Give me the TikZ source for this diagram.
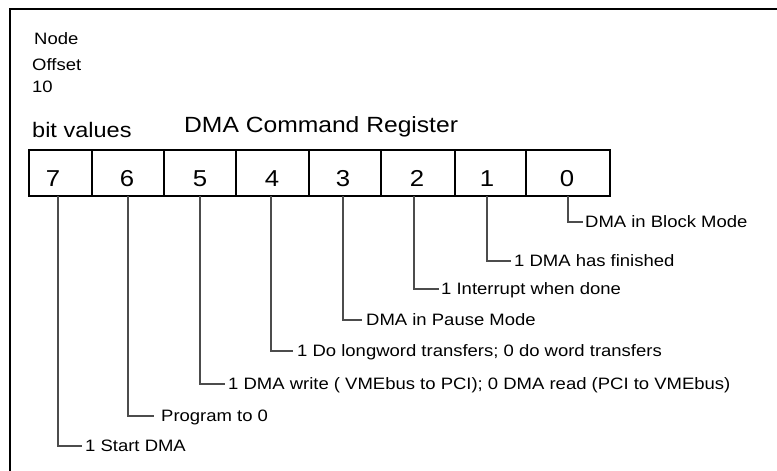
\documentclass[tikz,border=0pt]{standalone}
\usepackage{fontspec}
\setmainfont{Liberation Sans}[FakeStretch=1.12]
\begin{document}
\begin{tikzpicture}[x=1pt,y=-1pt,
  cell/.style={draw=black,line width=1.6pt,minimum height=46pt,inner sep=0pt},
  digit/.style={font=\fontsize{23}{26}\selectfont,inner sep=0pt,anchor=base},
  lab/.style={font=\fontsize{16.5}{19}\selectfont,inner sep=0pt,anchor=west,text height=11.8pt,text depth=0pt},
  toplab/.style={font=\fontsize{16.5}{19}\selectfont,inner sep=0pt,anchor=base west},
  leader/.style={draw=black!70,line width=1.1pt}]
\useasboundingbox (0,0) rectangle (777,471);
% frame
\draw[line width=2pt] (777,8.5) -- (9.5,8.5) -- (9.5,471);
% top texts
\node[toplab] (node) at (34,44.3) {Node};
\node[toplab] (offset) at (32,70) {Offset};
\node[toplab] (ten) at (32,92.3) {10};
\node[font=\fontsize{21}{24}\selectfont,inner sep=0pt,anchor=base west] (bits) at (32,137.7) {bit values};
\node[font=\fontsize{22}{25}\selectfont,inner sep=0pt,anchor=base west] (title) at (184,132.3) {DMA Command Register};
% register cells
\node[cell,minimum width=63pt] (c7) at (60.5,173) {};
\node[cell,minimum width=72pt] (c6) at (128,173) {};
\node[cell,minimum width=72pt] (c5) at (200,173) {};
\node[cell,minimum width=73pt] (c4) at (272.5,173) {};
\node[cell,minimum width=72pt] (c3) at (345,173) {};
\node[cell,minimum width=74pt] (c2) at (418,173) {};
\node[cell,minimum width=71pt] (c1) at (490.5,173) {};
\node[cell,minimum width=84pt] (c0) at (568,173) {};
% digits
\node[digit] (d7) at (53,186) {7};
\node[digit] (d6) at (127,186) {6};
\node[digit] (d5) at (200,186) {5};
\node[digit] (d4) at (272,186) {4};
\node[digit] (d3) at (343,186) {3};
\node[digit] (d2) at (417,186) {2};
\node[digit] (d1) at (487,186) {1};
\node[digit] (d0) at (567,186) {0};
% leader start points
\coordinate (t7) at (58,196);
\coordinate (t6) at (128,196);
\coordinate (t5) at (200,196);
\coordinate (t4) at (271,196);
\coordinate (t3) at (343,196);
\coordinate (t2) at (414,196);
\coordinate (t1) at (487,196);
\coordinate (t0) at (568,196);
% labels
\node[lab] (l0) at (585,222) {DMA in Block Mode};
\node[lab] (l1) at (514,261) {1 DMA has finished};
\node[lab] (l2) at (441,289) {1 Interrupt when done};
\node[lab] (l3) at (366,320) {DMA in Pause Mode};
\node[lab] (l4) at (297,351) {1 Do longword transfers; 0 do word transfers};
\node[lab] (l5) at (228,384) {1 DMA write ( VMEbus to PCI); 0 DMA read (PCI to VMEbus)};
\node[lab] (l6) at (161,416) {Program to 0};
\node[lab] (l7) at (85,446) {1 Start DMA};
% leaders
\draw[leader] (t0) |- ([xshift=-2pt]l0.west);
\draw[leader] (t1) |- ([xshift=-3pt]l1.west);
\draw[leader] (t2) |- ([xshift=-2pt]l2.west);
\draw[leader] (t3) |- ([xshift=-4pt]l3.west);
\draw[leader] (t4) |- ([xshift=-4pt]l4.west);
\draw[leader] (t5) |- ([xshift=-3pt]l5.west);
\draw[leader] (t6) |- ([xshift=-7pt]l6.west);
\draw[leader] (t7) |- ([xshift=-3pt]l7.west);
\end{tikzpicture}
\end{document}
